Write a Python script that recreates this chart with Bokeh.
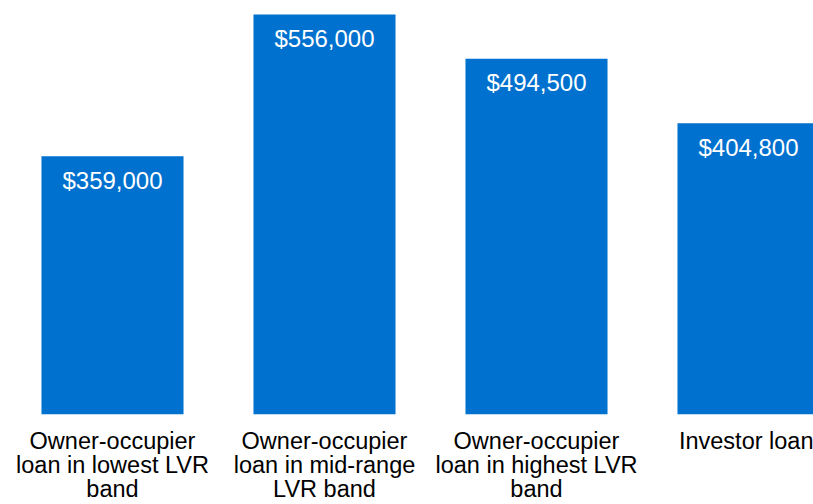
from bokeh.plotting import figure
from bokeh.models import Range1d, FixedTicker
from bokeh.core.properties import value
from bokeh.embed import file_html
from bokeh.resources import INLINE

categories = [
    "Owner-occupier\nloan in lowest LVR\nband",
    "Owner-occupier\nloan in mid-range\nLVR band",
    "Owner-occupier\nloan in highest LVR\nband",
    "Investor loan",
]
values = [359000, 556000, 494500, 404800]

xs = list(range(len(categories)))
labels = ["${:,}".format(v) for v in values]

BLUE = "#0071CE"
FONT = "Liberation Sans"

p = figure(
    width=813, height=504,
    output_backend="svg", toolbar_location=None,
    x_range=Range1d(-0.5283, 3.3066),
    y_range=Range1d(0, 575460),
    min_border_left=0, min_border_right=0, min_border_top=0, min_border_bottom=90,
    outline_line_color=None,
)
p.grid.visible = False
p.yaxis.visible = False

p.vbar(x=xs, top=values, width=0.67, bottom=0, fill_color=BLUE, line_color=None)

p.text(x=xs, y=values, text=labels, text_align="center", text_baseline="alphabetic",
       y_offset=24, text_color="white", text_font=value(FONT), text_font_size="24px")

ax = p.xaxis[0]
ax.ticker = FixedTicker(ticks=xs)
ax.major_label_overrides = {i: c for i, c in zip(xs, categories)}
ax.axis_line_color = None
ax.major_tick_line_color = None
ax.minor_tick_line_color = None
ax.major_tick_out = 0
ax.major_tick_in = 0
ax.major_label_standoff = 13
ax.major_label_text_font = FONT
ax.major_label_text_font_size = "23.5px"
ax.major_label_text_color = "black"
ax.major_label_text_line_height = 0.93

open("out.html", "w").write(file_html(p, INLINE))
